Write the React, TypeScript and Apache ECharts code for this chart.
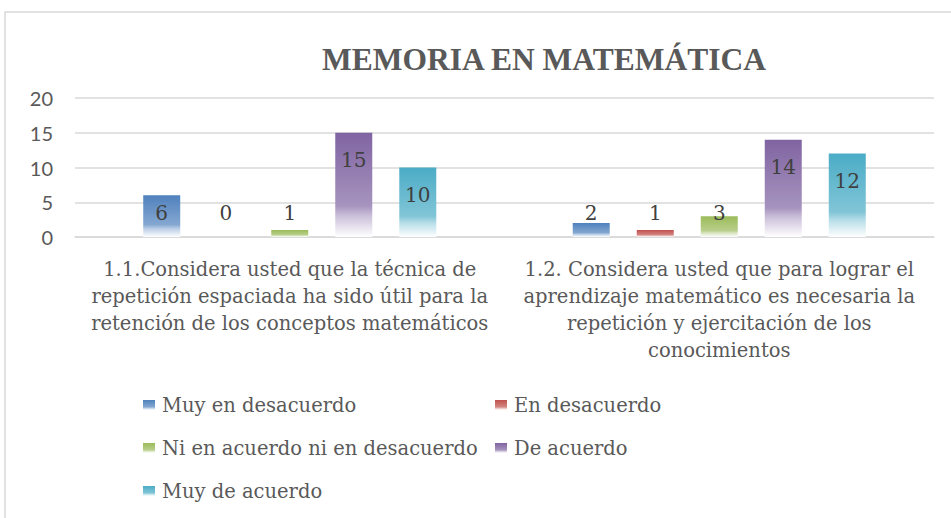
import React, { useEffect, useRef } from "react";
import * as echarts from "echarts";

const categories = [
  "1.1.Considera usted que la técnica de\nrepetición espaciada ha sido útil para la\nretención de los conceptos matemáticos",
  "1.2. Considera usted que para lograr el\naprendizaje matemático es necesaria la\nrepetición y ejercitación de los\nconocimientos",
];
const seriesNames = [
  "Muy en desacuerdo",
  "En desacuerdo",
  "Ni en acuerdo ni en desacuerdo",
  "De acuerdo",
  "Muy de acuerdo",
];
const muyEnDesacuerdo = [6, 2];
const enDesacuerdo = [0, 1];
const niNi = [1, 3];
const deAcuerdo = [15, 14];
const muyDeAcuerdo = [10, 12];
const seriesValues = [muyEnDesacuerdo, enDesacuerdo, niNi, deAcuerdo, muyDeAcuerdo];
const seriesColors = ["#4F81BD", "#C0504D", "#9BBB59", "#8064A2", "#4BACC6"];
const yTicks = { min: 0, max: 20, interval: 5 };
const titleText = "MEMORIA EN MATEMÁTICA";

const SERIF = "'DejaVu Serif', serif";
const TITLE_SERIF = "'Liberation Serif', serif";
const SANS = "Lato, 'Open Sans', sans-serif";
const GREY = "#595959";

function mix(hex: string, t: number): string {
  const n = parseInt(hex.slice(1), 16);
  const r = (n >> 16) & 255, g = (n >> 8) & 255, b = n & 255;
  const m = (c: number) => Math.round(c + (255 - c) * t);
  return `rgb(${m(r)},${m(g)},${m(b)})`;
}

function gradient(hex: string) {
  return new echarts.graphic.LinearGradient(0, 0, 0, 1, [
    { offset: 0, color: hex },
    { offset: 0.7, color: mix(hex, 0.3) },
    { offset: 0.8, color: mix(hex, 0.6) },
    { offset: 1, color: "#ffffff" },
  ]);
}

export default function App() {
  const ref = useRef<HTMLDivElement>(null);
  useEffect(() => {
    if (!ref.current) return;
    const chart = echarts.init(ref.current, undefined, { renderer: "svg" });
    const series = seriesNames.map((name, i) => ({
      name,
      type: "bar" as const,
      barWidth: 37,
      barGap: "73%",
      itemStyle: { color: gradient(seriesColors[i]) },
      data: seriesValues[i].map((v) => ({
        value: v,
        label: v > 6
          ? { position: "insideTop" as const, distance: 17 }
          : { position: "insideBottom" as const, distance: 14 },
      })),
      label: {
        show: true,
        color: "#404040",
        fontFamily: SERIF,
        fontSize: 20,
      },
    }));
    const legendText = {
      fontFamily: SERIF,
      fontSize: 19.5,
      color: GREY,
      lineHeight: 22,
      padding: [0, 0, 0, 2],
    };
    const legendBase = {
      orient: "vertical" as const,
      top: 394,
      padding: 0,
      itemWidth: 12,
      itemHeight: 10,
      itemGap: 21,
      icon: "rect",
      textStyle: legendText,
    };
    chart.setOption({
      animation: false,
      backgroundColor: "#ffffff",
      title: {
        text: titleText,
        left: 539,
        top: 38,
        textAlign: "center",
        textStyle: {
          fontFamily: TITLE_SERIF,
          fontWeight: "bold",
          fontSize: 31.5,
          color: GREY,
        },
      },
      graphic: [
        {
          type: "rect",
          shape: { x: 5, y: 12, width: 980, height: 540 },
          style: { fill: "none", stroke: "#d9d9d9", lineWidth: 1.5 },
          silent: true,
        },
      ],
      legend: [
        { ...legendBase, left: 143, data: [seriesNames[0], seriesNames[2], seriesNames[4]] },
        { ...legendBase, left: 495, data: [seriesNames[1], seriesNames[3]] },
      ],
      grid: { left: 75, right: 17, top: 98, bottom: 281, containLabel: false },
      xAxis: {
        type: "category",
        data: categories,
        axisLine: { lineStyle: { color: "#d9d9d9", width: 1.5 } },
        axisTick: { show: false },
        axisLabel: {
          interval: 0,
          margin: 19,
          fontFamily: SERIF,
          fontSize: 19.5,
          lineHeight: 27,
          color: GREY,
          align: "center",
        },
      },
      yAxis: {
        type: "value",
        min: yTicks.min,
        max: yTicks.max,
        interval: yTicks.interval,
        axisLine: { show: false },
        axisTick: { show: false },
        splitLine: { lineStyle: { color: "#d9d9d9", width: 1.5 } },
        axisLabel: { margin: 22, fontFamily: SANS, fontSize: 20, color: GREY },
      },
      series,
    });
    return () => chart.dispose();
  }, []);
  return (
    <div
      ref={ref}
      style={{ position: "fixed", left: 0, top: 0, width: 951, height: 518 }}
    />
  );
}
